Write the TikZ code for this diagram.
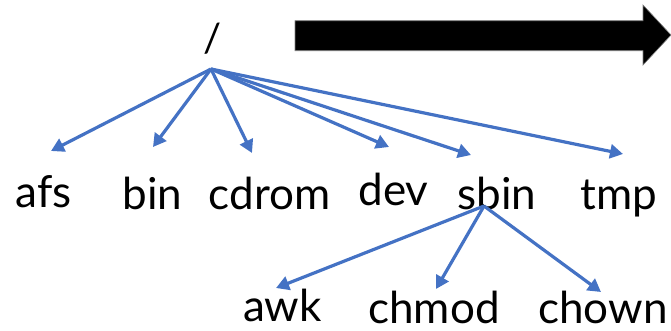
\documentclass[tikz,border=0pt]{standalone}
\usepackage{fontspec}
\setmainfont{Lato}
\usetikzlibrary{arrows.meta}
\definecolor{linkblue}{HTML}{4472C4}
\begin{document}
\begin{tikzpicture}[x=1pt,y=-1pt,
  dirname/.style={font=\fontsize{44}{44}\selectfont, inner sep=0pt, text depth=0pt, anchor=base},
  link/.style={draw=linkblue, line width=3.2pt, -{Triangle[length=13pt,width=14pt]}}]
\useasboundingbox (0,0) rectangle (671,330);

% big direction arrow
\draw[fill=black, draw=gray, line width=0.6pt]
  (295,20.7) -- (643,20.7) -- (643,5) -- (671,35) -- (643,65) -- (643,50.7) -- (295,50.7) -- cycle;

% root directory
\node[dirname, font=\fontsize{40}{40}\selectfont] (root) at (213,52) {/};
\coordinate (rootfork) at (211,69);

% first level
\node[dirname] (afs)   at (43.5,207) {afs};
\node[dirname] (bin)   at (152.5,209) {bin};
\node[dirname] (cdrom) at (269.5,209) {cdrom};
\node[dirname] (dev)   at (393.5,205) {dev};
\node[dirname] (sbin)  at (497,209) {sbin};
\node[dirname] (tmp)   at (619,209) {tmp};

% second level under sbin
\node[dirname] (awk)   at (282.5,321) {awk};
\node[dirname] (chmod) at (434,323) {chmod};
\node[dirname] (chown) at (603,323) {chown};
\coordinate (sbinfork) at (484,206);

% arrow tips above each name
\coordinate (afs-in)   at (51,151);
\coordinate (bin-in)   at (153,147);
\coordinate (cdrom-in) at (252,153);
\coordinate (dev-in)   at (389,147);
\coordinate (sbin-in)  at (471,155);
\coordinate (tmp-in)   at (623,154);
\coordinate (awk-in)   at (276,288);
\coordinate (chmod-in) at (436,289);
\coordinate (chown-in) at (601,292);

\foreach \d in {afs,bin,cdrom,dev,sbin,tmp}
  \draw[link] (rootfork) -- (\d-in);
\foreach \d in {awk,chmod,chown}
  \draw[link] (sbinfork) -- (\d-in);
\end{tikzpicture}
\end{document}
